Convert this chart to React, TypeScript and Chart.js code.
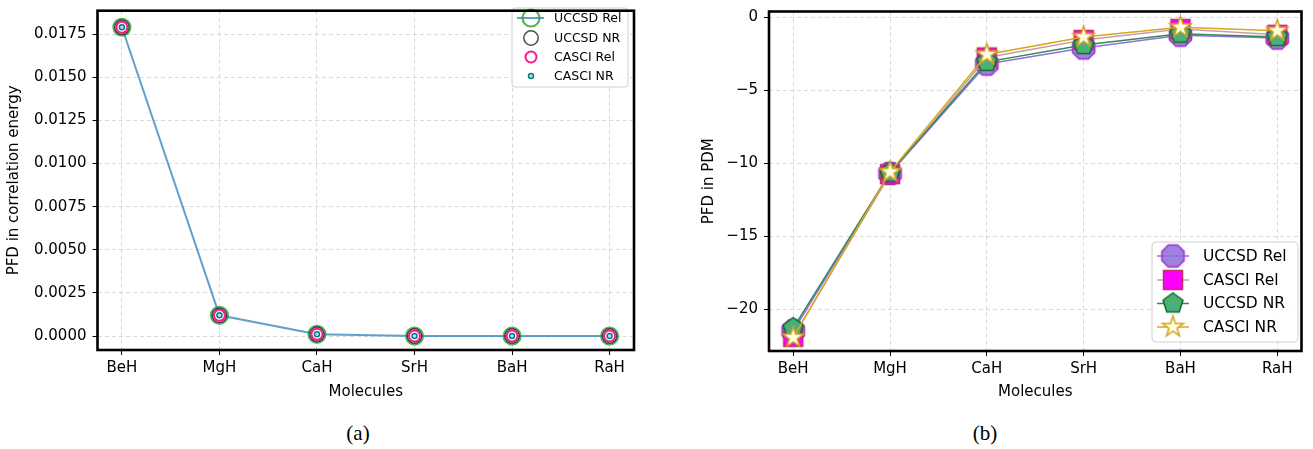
import React, { useEffect, useRef } from "react";
import { Chart, registerables } from "chart.js";
Chart.register(...registerables);

const categories = ["BeH", "MgH", "CaH", "SrH", "BaH", "RaH"];

// (a) PFD in correlation energy
const corrUccsdRel = [0.0179, 0.0012, 0.0001, 0.0, 0.0, 0.0];
const corrUccsdNr = [0.0179, 0.0012, 0.0001, 0.0, 0.0, 0.0];
const corrCasciRel = [0.0179, 0.0012, 0.0001, 0.0, 0.0, 0.0];
const corrCasciNr = [0.0179, 0.0012, 0.0001, 0.0, 0.0, 0.0];
const corrTicks = [0, 0.0025, 0.005, 0.0075, 0.01, 0.0125, 0.015, 0.0175];

// (b) PFD in PDM
const pdmUccsdRel = [-21.5, -10.7, -3.2, -2.1, -1.22, -1.42];
const pdmCasciRel = [-21.9, -10.75, -2.75, -1.55, -0.8, -1.2];
const pdmUccsdNr = [-21.3, -10.65, -3.05, -1.9, -1.12, -1.35];
const pdmCasciNr = [-21.95, -10.6, -2.55, -1.35, -0.68, -0.92];
const pdmTicks = [-20, -15, -10, -5, 0];

const FONT = "'DejaVu Sans', sans-serif";
const GRID = "#cfcfcf";

const xy = (a: number[]) => a.map((y, i) => ({ x: i, y }));

type Shape = "octagon" | "square" | "pentagon" | "star";

function tracePath(ctx: CanvasRenderingContext2D, shape: Shape, cx: number, cy: number, r: number) {
  ctx.beginPath();
  if (shape === "square") {
    ctx.rect(cx - r, cy - r, 2 * r, 2 * r);
    return;
  }
  if (shape === "star") {
    for (let i = 0; i < 10; i++) {
      const rr = i % 2 === 0 ? r : r * 0.381966;
      const a = -Math.PI / 2 + (i * Math.PI) / 5;
      const px = cx + rr * Math.cos(a);
      const py = cy + rr * Math.sin(a);
      if (i === 0) ctx.moveTo(px, py);
      else ctx.lineTo(px, py);
    }
    ctx.closePath();
    return;
  }
  const n = shape === "octagon" ? 8 : 5;
  const start = shape === "octagon" ? -Math.PI / 2 + Math.PI / 8 : -Math.PI / 2;
  for (let i = 0; i < n; i++) {
    const a = start + (i * 2 * Math.PI) / n;
    const px = cx + r * Math.cos(a);
    const py = cy + r * Math.sin(a);
    if (i === 0) ctx.moveTo(px, py);
    else ctx.lineTo(px, py);
  }
  ctx.closePath();
}

function makeMarker(shape: Shape, r: number, fill: string, stroke: string, lw: number) {
  const size = Math.ceil(2 * (r + lw) + 4);
  const c = document.createElement("canvas");
  c.width = size;
  c.height = size;
  const ctx = c.getContext("2d")!;
  ctx.lineJoin = "miter";
  tracePath(ctx, shape, size / 2, size / 2, r);
  ctx.fillStyle = fill;
  ctx.fill();
  ctx.lineWidth = lw;
  ctx.strokeStyle = stroke;
  ctx.stroke();
  return c;
}

const framePlugin = {
  id: "frame",
  afterDraw(chart: any) {
    const { ctx, chartArea: a } = chart;
    ctx.save();
    ctx.strokeStyle = "#000";
    ctx.lineWidth = 2.6;
    ctx.strokeRect(a.left, a.top, a.right - a.left, a.bottom - a.top);
    ctx.restore();
  },
};

function legendBox(ctx: CanvasRenderingContext2D, x0: number, y0: number, x1: number, y1: number, rad: number) {
  ctx.save();
  ctx.beginPath();
  ctx.roundRect(x0, y0, x1 - x0, y1 - y0, rad);
  ctx.fillStyle = "rgba(255,255,255,0.85)";
  ctx.fill();
  ctx.strokeStyle = "#d0d0d0";
  ctx.lineWidth = 1;
  ctx.stroke();
  ctx.restore();
}

function axisCommon(size: number) {
  return {
    font: { family: FONT, size },
    color: "#000",
  };
}

function CorrChart() {
  const ref = useRef<HTMLCanvasElement>(null);
  useEffect(() => {
    const styles = [
      { label: "UCCSD Rel", r: 8.5, color: "rgba(44,160,44,0.8)", lw: 2.2, fill: "rgba(0,0,0,0)" },
      { label: "UCCSD NR", r: 7.2, color: "rgba(45,45,45,0.85)", lw: 1.5, fill: "rgba(0,0,0,0)" },
      { label: "CASCI Rel", r: 5.5, color: "#ff1493", lw: 2, fill: "#ffffff" },
      { label: "CASCI NR", r: 2.5, color: "#008080", lw: 1.5, fill: "rgba(0,128,128,0.25)" },
    ];
    const series = [corrUccsdRel, corrUccsdNr, corrCasciRel, corrCasciNr];
    const lineBlue = "rgba(31,119,180,0.7)";
    const legendPlugin = {
      id: "corrLegend",
      afterDraw(chart: any) {
        const ctx = chart.ctx as CanvasRenderingContext2D;
        legendBox(ctx, 512, 8, 628, 87, 3);
        const rows = [18, 38, 57, 76];
        ctx.save();
        styles.forEach((s, i) => {
          const cy = rows[i];
          if (i === 0) {
            ctx.strokeStyle = lineBlue;
            ctx.lineWidth = 2;
            ctx.beginPath();
            ctx.moveTo(517, cy);
            ctx.lineTo(544, cy);
            ctx.stroke();
          }
          ctx.beginPath();
          ctx.arc(531, cy, s.r, 0, Math.PI * 2);
          ctx.fillStyle = s.fill;
          ctx.fill();
          ctx.lineWidth = s.lw;
          ctx.strokeStyle = s.color;
          ctx.stroke();
          ctx.fillStyle = "#000";
          ctx.font = `12.5px ${FONT}`;
          ctx.textBaseline = "middle";
          ctx.textAlign = "left";
          ctx.fillText(s.label, 554, cy + 0.5);
        });
        ctx.restore();
      },
    };
    const chart = new Chart(ref.current!, {
      type: "line",
      data: {
        datasets: styles.map((s, i) => ({
          label: s.label,
          data: xy(series[i]),
          showLine: i === 0,
          borderColor: i === 0 ? lineBlue : s.color,
          borderWidth: 2,
          pointStyle: "circle",
          pointRadius: s.r,
          pointBorderColor: s.color,
          pointBackgroundColor: s.fill,
          pointBorderWidth: s.lw,
          order: 4 - i,
        })),
      },
      options: {
        responsive: false,
        animation: false,
        devicePixelRatio: 1,
        layout: { padding: { left: 0, top: 2, right: 26, bottom: 5 } },
        plugins: { legend: { display: false }, tooltip: { enabled: false } },
        scales: {
          x: {
            type: "linear",
            min: -0.25,
            max: 5.25,
            afterBuildTicks: (s: any) => {
              s.ticks = categories.map((_, i) => ({ value: i }));
            },
            afterFit: (s: any) => {
              s.height = 55;
              s.paddingLeft = 0;
              s.paddingRight = 0;
            },
            ticks: {
              ...axisCommon(15),
              padding: 4,
              maxRotation: 0,
              autoSkip: false,
              callback: (v: any) => categories[Math.round(v)] ?? "",
            },
            grid: {
              color: GRID,
              lineWidth: 0.8,
              tickColor: "#000",
              tickLength: 5,
              tickWidth: 1,
              tickBorderDash: [],
              borderDash: [4, 3],
            },
            border: { display: false, dash: [4, 3] },
            title: { display: true, text: "Molecules", ...axisCommon(15), padding: { top: 0, bottom: 4 } },
          },
          y: {
            type: "linear",
            min: -0.00081,
            max: 0.01886,
            afterBuildTicks: (s: any) => {
              s.ticks = corrTicks.map((v) => ({ value: v }));
            },
            afterFit: (s: any) => {
              s.width = 97.5;
              s.paddingTop = 0;
              s.paddingBottom = 0;
            },
            ticks: {
              ...axisCommon(15),
              padding: 6,
              callback: (v: any) => Number(v).toFixed(4),
            },
            grid: {
              color: GRID,
              lineWidth: 0.8,
              tickColor: "#000",
              tickLength: 5,
              tickWidth: 1,
              tickBorderDash: [],
              borderDash: [4, 3],
            },
            border: { display: false, dash: [4, 3] },
            title: {
              display: true,
              text: "PFD in correlation energy",
              ...axisCommon(15),
              padding: { top: 5, bottom: 0 },
            },
          },
        },
      } as any,
      plugins: [legendPlugin, framePlugin],
    });
    return () => chart.destroy();
  }, []);
  return (
    <canvas ref={ref} width={660} height={410} style={{ position: "absolute", left: 0, top: 0 }} />
  );
}

function PdmChart() {
  const ref = useRef<HTMLCanvasElement>(null);
  useEffect(() => {
    const styles = [
      { label: "UCCSD Rel", shape: "octagon" as Shape, r: 12, fill: "rgba(147,112,219,0.88)", edge: "#9932cc", line: "#9370db" },
      { label: "CASCI Rel", shape: "square" as Shape, r: 9.5, fill: "#ff00ff", edge: "#c0306a", line: "#c9a0a0" },
      { label: "UCCSD NR", shape: "pentagon" as Shape, r: 10.5, fill: "#4caf78", edge: "#106d2a", line: "#2e8b57" },
      { label: "CASCI NR", shape: "star" as Shape, r: 11, fill: "#ffffe0", edge: "#d4a020", line: "#daa520" },
    ];
    const series = [pdmUccsdRel, pdmCasciRel, pdmUccsdNr, pdmCasciNr];
    const markers = styles.map((s) => makeMarker(s.shape, s.r, s.fill, s.edge, 1.5));
    const legendPlugin = {
      id: "pdmLegend",
      afterDraw(chart: any) {
        const ctx = chart.ctx as CanvasRenderingContext2D;
        legendBox(ctx, 492, 242, 638, 342, 4);
        const rows = [256, 280, 303.5, 327];
        ctx.save();
        styles.forEach((s, i) => {
          const cy = rows[i];
          ctx.strokeStyle = s.line;
          ctx.lineWidth = 1.5;
          ctx.beginPath();
          ctx.moveTo(497, cy);
          ctx.lineTo(529, cy);
          ctx.stroke();
          const m = markers[i];
          ctx.drawImage(m, 513 - m.width / 2, cy - m.height / 2);
          ctx.fillStyle = "#000";
          ctx.font = `15.5px ${FONT}`;
          ctx.textBaseline = "middle";
          ctx.textAlign = "left";
          ctx.fillText(s.label, 543, cy + 0.5);
        });
        ctx.restore();
      },
    };
    const chart = new Chart(ref.current!, {
      type: "line",
      data: {
        datasets: styles.map((s, i) => ({
          label: s.label,
          data: xy(series[i]),
          borderColor: s.line,
          borderWidth: 1.5,
          pointStyle: markers[i],
          pointRadius: 10,
          order: 4 - i,
        })),
      },
      options: {
        responsive: false,
        animation: false,
        devicePixelRatio: 1,
        layout: { padding: { left: 0, top: 2, right: 8, bottom: 5 } },
        plugins: { legend: { display: false }, tooltip: { enabled: false } },
        scales: {
          x: {
            type: "linear",
            min: -0.25,
            max: 5.25,
            afterBuildTicks: (s: any) => {
              s.ticks = categories.map((_, i) => ({ value: i }));
            },
            afterFit: (s: any) => {
              s.height = 54;
              s.paddingLeft = 0;
              s.paddingRight = 0;
            },
            ticks: {
              ...axisCommon(15),
              padding: 4,
              maxRotation: 0,
              autoSkip: false,
              callback: (v: any) => categories[Math.round(v)] ?? "",
            },
            grid: {
              color: GRID,
              lineWidth: 0.8,
              tickColor: "#000",
              tickLength: 5,
              tickWidth: 1,
              tickBorderDash: [],
              borderDash: [4, 3],
            },
            border: { display: false, dash: [4, 3] },
            title: { display: true, text: "Molecules", ...axisCommon(15), padding: { top: 0, bottom: 4 } },
          },
          y: {
            type: "linear",
            min: -22.87,
            max: 0.4,
            afterBuildTicks: (s: any) => {
              s.ticks = pdmTicks.map((v) => ({ value: v }));
            },
            afterFit: (s: any) => {
              s.width = 109;
              s.paddingTop = 0;
              s.paddingBottom = 0;
            },
            ticks: {
              ...axisCommon(15),
              padding: 6,
              callback: (v: any) => (Number(v) < 0 ? "\u2212" + String(-Number(v)) : String(v)),
            },
            grid: {
              color: GRID,
              lineWidth: 0.8,
              tickColor: "#000",
              tickLength: 5,
              tickWidth: 1,
              tickBorderDash: [],
              borderDash: [4, 3],
            },
            border: { display: false, dash: [4, 3] },
            title: {
              display: true,
              text: "PFD in PDM",
              ...axisCommon(15),
              padding: { top: 40, bottom: 0 },
            },
          },
        },
      } as any,
      plugins: [legendPlugin, framePlugin],
    });
    return () => chart.destroy();
  }, []);
  return (
    <canvas ref={ref} width={653} height={410} style={{ position: "absolute", left: 660, top: 0 }} />
  );
}

const captionStyle: React.CSSProperties = {
  position: "absolute",
  top: 420,
  width: 100,
  textAlign: "center",
  font: "21px 'Liberation Serif', 'DejaVu Serif', serif",
  lineHeight: "26px",
  color: "#000",
};

export default function App() {
  return (
    <div
      style={{
        position: "fixed",
        left: 0,
        top: 0,
        width: 1313,
        height: 449,
        background: "#fff",
        overflow: "hidden",
      }}
    >
      <CorrChart />
      <PdmChart />
      <div style={{ ...captionStyle, left: 308 }}>(a)</div>
      <div style={{ ...captionStyle, left: 935 }}>(b)</div>
    </div>
  );
}
